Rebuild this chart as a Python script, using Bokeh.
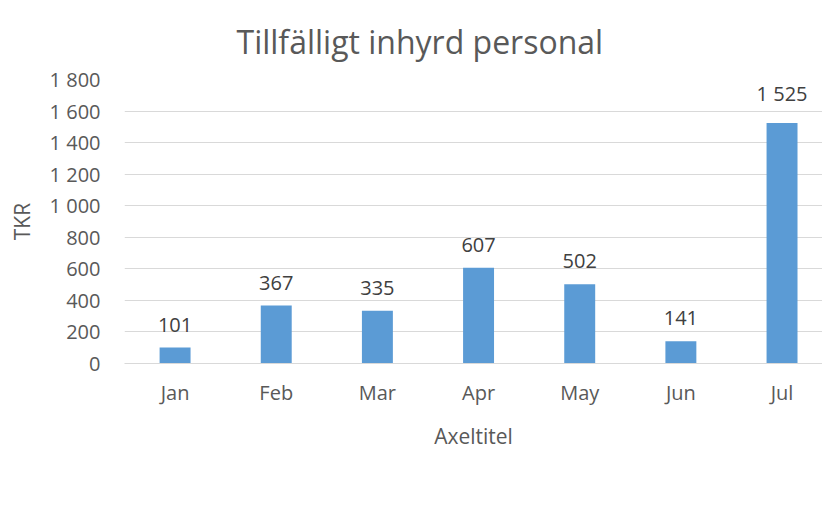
from bokeh.plotting import figure
from bokeh.models import Range1d, FixedTicker, CustomJSTickFormatter, Legend, LegendItem, ColumnDataSource
from bokeh.embed import file_html
from bokeh.resources import INLINE

months = ["Jan", "Feb", "Mar", "Apr", "May", "Jun", "Jul"]
values = [101, 367, 335, 607, 502, 141, 1525]
series_name = "75100 Tillfälligt inhyrd personal"
y_ticks = [0, 200, 400, 600, 800, 1000, 1200, 1400, 1600, 1800]

FONT = "Open Sans"
TXT = "#595959"
BAR = "#5b9bd5"

def fmt(v):
    return f"{v:,}".replace(",", " ")

xs = [i + 0.5 for i in range(len(months))]
src = ColumnDataSource(dict(x=xs, top=values, label=[fmt(v) for v in values]))

p = figure(width=822, height=512, frame_width=698, frame_height=284,
           output_backend="svg", toolbar_location=None,
           x_range=Range1d(0, 6.9), y_range=Range1d(0, 1800),
           min_border_left=124, min_border_right=0, min_border_top=79, min_border_bottom=0)
p.outline_line_color = None

p.title.text = "Tillfälligt inhyrd personal"
p.title.align = "left"
p.title.offset = 112
p.title.standoff = 33
p.title.text_font = FONT
p.title.text_font_size = "32px"
p.title.text_font_style = "normal"
p.title.text_color = TXT

r = p.vbar(x="x", top="top", width=0.306, source=src, fill_color=BAR, line_color=None)
p.text(x="x", y="top", text="label", source=src, text_align="center", text_baseline="bottom",
       y_offset=-16, text_font_size="20px", text_color="#404040", text_font={"value": FONT})

p.xaxis.ticker = FixedTicker(ticks=xs)
p.xaxis.major_label_overrides = {x: m for x, m in zip(xs, months)}
p.xaxis.axis_label = "Axeltitel"
p.xaxis.axis_line_color = "#d9d9d9"
p.xaxis.major_label_standoff = 15
p.xaxis.axis_label_standoff = 13

p.yaxis.ticker = FixedTicker(ticks=y_ticks)
p.yaxis.formatter = CustomJSTickFormatter(code="return tick.toString().replace(/\\B(?=(\\d{3})+(?!\\d))/g, ' ');")
p.yaxis.axis_label = "TKR"
p.yaxis.axis_line_color = None
p.yaxis.major_label_standoff = 24
p.yaxis.axis_label_standoff = 11

for ax in (p.xaxis, p.yaxis):
    ax.major_tick_line_color = None
    ax.minor_tick_line_color = None
    ax.major_tick_out = 0
    ax.major_tick_in = 0
    ax.minor_tick_out = 0
    ax.minor_tick_in = 0
    ax.major_label_text_font = FONT
    ax.major_label_text_font_size = "20px"
    ax.major_label_text_color = TXT
    ax.axis_label_text_font = FONT
    ax.axis_label_text_font_size = "21px"
    ax.axis_label_text_font_style = "normal"
    ax.axis_label_text_color = TXT

p.xgrid.grid_line_color = None
p.ygrid.ticker = FixedTicker(ticks=y_ticks)
p.ygrid.grid_line_color = "#d9d9d9"

legend = Legend(items=[LegendItem(label=series_name, renderers=[r])], location="bottom_center",
                orientation="horizontal", border_line_color=None, background_fill_alpha=0,
                label_text_font=FONT, label_text_font_size="21px", label_text_color=TXT,
                label_standoff=6, glyph_width=14, glyph_height=14, margin=2, padding=0)
p.add_layout(legend, "below")

open("out.html", "w").write(file_html(p, INLINE))
